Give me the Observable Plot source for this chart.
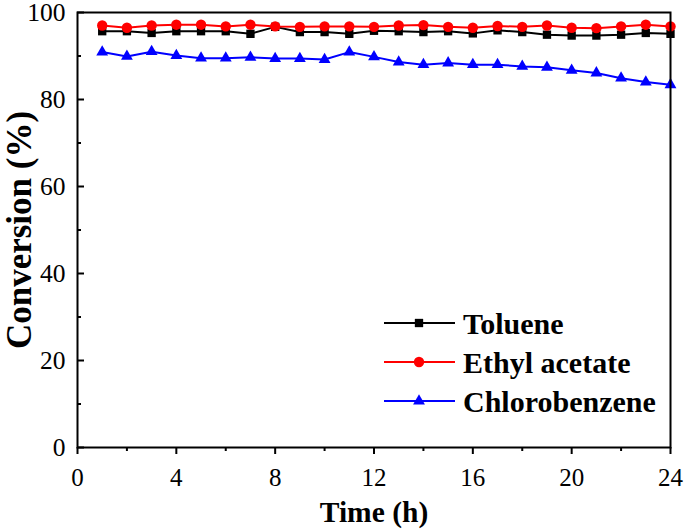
<!DOCTYPE html>
<html><head><meta charset="utf-8">
<script src="https://cdn.jsdelivr.net/npm/d3@7"></script>
<script src="https://cdn.jsdelivr.net/npm/@observablehq/plot@0.6"></script>
<style>
body{margin:0;background:#fff;}
#wrap{position:relative;width:685px;height:530px;}
#legend{position:absolute;left:0;top:0;pointer-events:none;}
svg text{font-family:'Liberation Serif','Times New Roman',serif;}
</style></head><body><div id="wrap"></div>
<script>
const hours = [1,2,3,4,5,6,7,8,9,10,11,12,13,14,15,16,17,18,19,20,21,22,23,24];
const toluene = [95.7,95.7,95.3,95.7,95.7,95.7,95.1,96.7,95.5,95.5,95.1,95.8,95.7,95.5,95.7,95.2,95.9,95.5,94.9,94.7,94.7,94.9,95.3,95.1];
const ethylAcetate = [97.0,96.5,97.0,97.2,97.2,96.8,97.2,96.8,96.7,96.8,96.8,96.7,97.0,97.1,96.7,96.5,96.9,96.7,97.0,96.5,96.4,96.8,97.2,96.8];
const chlorobenzene = [90.9,89.9,91.0,90.1,89.5,89.5,89.7,89.4,89.4,89.2,90.9,89.8,88.6,88.0,88.4,88.0,88.0,87.6,87.4,86.7,86.1,84.9,84.0,83.4];
const seriesNames = ["Toluene","Ethyl acetate","Chlorobenzene"];
const seriesValues = [toluene, ethylAcetate, chlorobenzene];
const seriesColors = ["#000000","#ff0000","#0000ff"];
const seriesSymbols = ["square","circle","triangle"];
const seriesRadius = [4.7,5.2,4.4];
const xMajorTicks = [0,4,8,12,16,20,24];
const xMinorTicks = [2,6,10,14,18,22];
const yMajorTicks = [0,20,40,60,80,100];
const yMinorTicks = [10,30,50,70,90];
const xLabel = "Time (h)";
const yLabel = "Conversion (%)";

const FONT = "'Liberation Serif','Times New Roman',serif";
const data = [];
seriesNames.forEach((name, i) => hours.forEach((h, j) => data.push({series: name, hour: h, value: seriesValues[i][j]})));

const marks = [];
seriesNames.forEach((name, i) => {
  const rows = data.filter(d => d.series === name);
  marks.push(Plot.line(rows, {x: "hour", y: "value", stroke: seriesColors[i], strokeWidth: 2}));
  marks.push(Plot.dot(rows, {x: "hour", y: "value", fill: seriesColors[i], stroke: "none", symbol: seriesSymbols[i], r: seriesRadius[i]}));
});

const chart = Plot.plot({
  width: 685, height: 530,
  marginLeft: 77, marginRight: 15, marginTop: 12, marginBottom: 83,
  style: {fontFamily: FONT, background: "#fff", color: "#000"},
  x: {domain: [0, 24]},
  y: {domain: [0, 100]},
  marks: [
    ...marks,
    Plot.frame({stroke: "#000", strokeWidth: 2}),
    Plot.axisX(xMajorTicks, {tickSize: 7, tickPadding: 14, strokeWidth: 2, fontSize: 25, fontFamily: FONT, fontVariant: "normal", label: null, tickFormat: d => String(d)}),
    Plot.axisX(xMinorTicks, {tickSize: 4, strokeWidth: 2, label: null, tickFormat: () => ""}),
    Plot.axisY(yMajorTicks, {tickSize: 0, tickPadding: 12, fontSize: 25.5, fontFamily: FONT, fontVariant: "normal", label: null, tickFormat: d => String(d)}),
    Plot.axisY(yMajorTicks, {tickSize: 7, dx: 7, strokeWidth: 2, label: null, tickFormat: () => ""}),
    Plot.axisY(yMinorTicks, {tickSize: 4, dx: 4, strokeWidth: 2, label: null, tickFormat: () => ""}),
    Plot.text([xLabel], {text: d => d, frameAnchor: "bottom", lineAnchor: "middle", textAnchor: "middle", dy: 65.5, fontSize: 29.5, fontWeight: "bold", fontFamily: FONT, fill: "#000"}),
    Plot.text([yLabel], {text: d => d, frameAnchor: "left", lineAnchor: "middle", textAnchor: "middle", dx: -58, rotate: -90, fontSize: 35, fontWeight: "bold", fontFamily: FONT, fill: "#000"})
  ]
});
document.getElementById("wrap").appendChild(chart);

// legend overlay
const legend = d3.select("#wrap").append("svg").attr("id", "legend").attr("width", 685).attr("height", 530);
const legendRowY = [323, 362, 401];
seriesNames.forEach((name, i) => {
  const g = legend.append("g").attr("transform", `translate(0,${legendRowY[i]})`);
  g.append("line").attr("x1", 384).attr("x2", 455).attr("y1", 0).attr("y2", 0).attr("stroke", seriesColors[i]).attr("stroke-width", 2);
  const sym = {square: d3.symbolSquare, circle: d3.symbolCircle, triangle: d3.symbolTriangle}[seriesSymbols[i]];
  g.append("path").attr("transform", "translate(419,0)").attr("d", d3.symbol(sym, Math.PI * seriesRadius[i] * seriesRadius[i])()).attr("fill", seriesColors[i]);
  g.append("text").attr("x", 463).attr("y", 10.5).attr("font-family", FONT).attr("font-weight", "bold").attr("font-size", 30).text(name);
});
</script></body></html>
